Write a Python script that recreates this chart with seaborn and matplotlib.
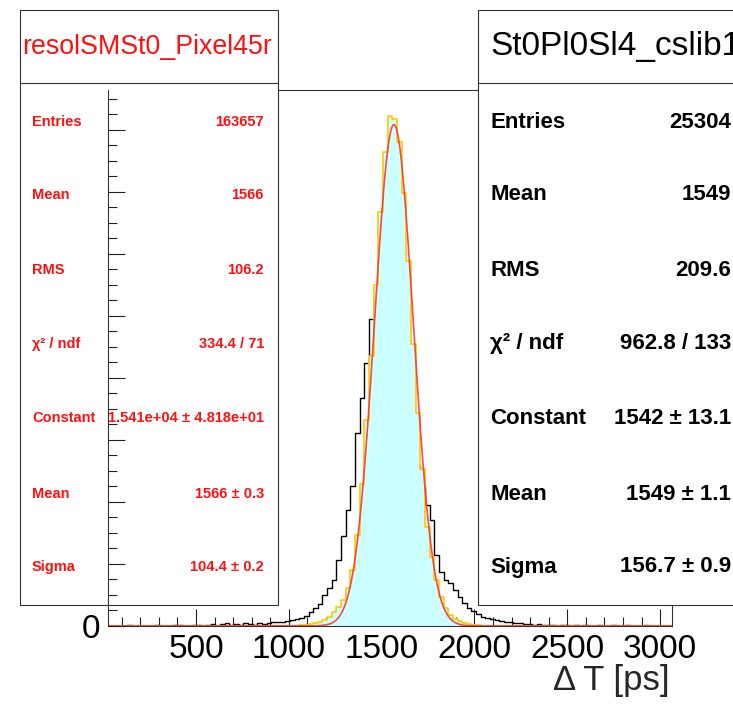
import numpy as np
import pandas as pd
import matplotlib
matplotlib.use("Agg")
import matplotlib.pyplot as plt
import seaborn as sns
from matplotlib.patches import Rectangle
from matplotlib.lines import Line2D
from matplotlib.ticker import MultipleLocator, FixedLocator, FuncFormatter

# ---------------- data ----------------
x_min, x_max, n_bins = 27.5, 3062.5, 121

cyan_counts = [0] * 40 + [
    16, 32, 48, 65, 97, 129, 194, 290, 452, 613,
    839, 1226, 1807, 2936, 4581, 6646, 8710, 11001, 13356, 15291,
    16453, 16356, 15614, 13969, 11775, 9097, 6871, 5065, 3194, 2226,
    1484, 936, 581, 355, 226, 161, 97, 65, 48, 32,
    16] + [0] * 40

black_counts = [
    0, 0, 0, 0, 48, 0, 0, 0, 0, 0,
    32, 0, 0, 0, 32, 48, 0, 0, 48, 32,
    0, 32, 65, 0, 65, 81, 32, 65, 32, 81,
    65, 32, 97, 65, 81, 113, 129, 145, 177, 194,
    226, 258, 323, 442, 571, 710, 1000, 1216, 1484, 2129,
    2903, 3742, 4516, 6226, 7355, 8484, 9904, 10646, 11130, 11291,
    11130, 10485, 9517, 8226, 6936, 5968, 5162, 4516, 3903, 3420,
    2290, 1742, 1484, 1387, 1161, 936, 742, 581, 484, 387,
    306, 258, 226, 194, 161, 129, 113, 97, 81, 65,
    65, 48, 65, 32, 48, 32, 0, 32, 48, 0,
    32, 0, 32, 0, 0, 32, 0, 0, 32, 0,
    0, 32, 0, 0, 0, 32, 0, 0, 0, 0,
    0]

fit_constant = 16160
fit_mean = 1566
fit_sigma = 104.4

x_tick_values = [500, 1000, 1500, 2000, 2500, 3000]
x_label = "\u0394 T [ps]"

left_title = "resolSMSt0_Pixel45r"
right_title = "St0Pl0Sl4_cslib1"
stat_labels = ["Entries", "Mean", "RMS", "\u03c7\u00b2 / ndf", "Constant", "Mean", "Sigma"]
left_values = ["163657", "1566", "106.2", "334.4 / 71",
               "1.541e+04 \u00b1 4.818e+01", "1566 \u00b1 0.3", "104.4 \u00b1 0.2"]
right_values = ["25304", "1549", "209.6", "962.8 / 133",
                "1542 \u00b1 13.1", "1549 \u00b1 1.1", "156.7 \u00b1 0.9"]

# ---------------- style ----------------
sns.set_style("ticks")
plt.rcParams['font.family'] = ['Liberation Sans', 'DejaVu Sans']

W, H = 733, 706
fig = plt.figure(figsize=(W / 100, H / 100), dpi=100)
ax_l, ax_r, ax_b, ax_t = 108.3, 671.7, 626, 90
ax = fig.add_axes([ax_l / W, 1 - ax_b / H, (ax_r - ax_l) / W, (ax_b - ax_t) / H])
ax.set_facecolor("white")

edges = np.linspace(x_min, x_max, n_bins + 1)
centers = 0.5 * (edges[:-1] + edges[1:])
bin_list = edges.tolist()
df = pd.DataFrame({"center": centers, "cyan": cyan_counts, "black": black_counts})

# black histogram (outline)
sns.histplot(data=df, x="center", weights="black", bins=bin_list, element="step",
             fill=False, color="black", linewidth=1.0, ax=ax, zorder=1.0)
# cyan filled histogram
sns.histplot(data=df, x="center", weights="cyan", bins=bin_list, element="step",
             fill=True, facecolor="#ccffff", edgecolor="none", linewidth=0,
             alpha=1, ax=ax, zorder=1.2)
# yellow outline
sns.histplot(data=df, x="center", weights="cyan", bins=bin_list, element="step",
             fill=False, color="#ffc800", linewidth=1.2, ax=ax, zorder=1.4)

# gaussian fit
x_fit = np.linspace(x_min, x_max, 1500)
y_fit = fit_constant * np.exp(-0.5 * ((x_fit - fit_mean) / fit_sigma) ** 2)
sns.lineplot(x=x_fit, y=y_fit, color="#ff2a2a", linewidth=1.2, alpha=0.85,
             estimator=None, sort=False, ax=ax, zorder=2.8)

ax.set_xlim(x_min, x_max)
ax.set_ylim(0, 1.05 * max(cyan_counts))
ax.set_ylabel("")

ax.xaxis.set_major_locator(FixedLocator(x_tick_values))
ax.xaxis.set_minor_locator(MultipleLocator(100))
ax.yaxis.set_major_locator(MultipleLocator(2000))
ax.yaxis.set_minor_locator(MultipleLocator(500))
ax.yaxis.set_major_formatter(FuncFormatter(lambda v, p: "0" if abs(v) < 1e-9 else ""))

ax.tick_params(axis="both", which="major", direction="in", length=12.5, width=0.8,
               color="#222222", labelsize=24, labelcolor="black")
ax.tick_params(axis="both", which="minor", direction="in", length=6.3, width=0.8,
               color="#222222")
ax.tick_params(axis="x", which="major", pad=6.0)
ax.tick_params(axis="y", which="major", pad=5.5)
ax.tick_params(top=False, right=False, which="both")

for s in ax.spines.values():
    s.set_color("#333333")
    s.set_linewidth(0.8)
    s.set_visible(True)
ax.spines["left"].set_zorder(4)
ax.yaxis.set_zorder(4)

ax.set_xlabel(x_label, fontsize=25, loc="right")
ax.xaxis.set_label_coords((670 - ax_l) / (ax_r - ax_l), (ax_b - 664) / (ax_b - ax_t))

# ---------------- stats boxes ----------------
def fx(px):
    return px / W

def fy(py):
    return 1 - py / H

box_top, box_bot, sep_y = 10, 605, 83
row_y = [122, 195, 270, 344, 418, 494, 567]

def stat_box(x0, x1, title, title_size, color, label_x, value_x, values, size, title_x):
    ax.add_patch(Rectangle((fx(x0), fy(box_bot)), fx(x1) - fx(x0), fy(box_top) - fy(box_bot),
                           transform=fig.transFigure, facecolor="white", edgecolor="#333333",
                           linewidth=0.8, zorder=3, clip_on=False))
    ax.add_line(Line2D([fx(x0), fx(x1)], [fy(sep_y), fy(sep_y)], transform=fig.transFigure,
                       color="#333333", linewidth=0.8, zorder=3.1, clip_on=False))
    ax.text(fx(title_x[0]), fy(47), title, transform=fig.transFigure, ha=title_x[1],
            va="center", fontsize=title_size, color=color, zorder=3.5)
    for lab, val, yy in zip(stat_labels, values, row_y):
        ax.text(fx(label_x), fy(yy), lab, transform=fig.transFigure, ha="left", va="center",
                fontsize=size, fontweight="bold", color=color, zorder=3.5)
        ax.text(fx(value_x), fy(yy), val, transform=fig.transFigure, ha="right", va="center",
                fontsize=size, fontweight="bold", color=color, zorder=3.5)

stat_box(20, 278, left_title, 19.3, "#ff1010", 32, 264, left_values, 10.5, (147, "center"))
stat_box(478, 745, right_title, 24, "black", 490, 731, right_values, 16, (490, "left"))

fig.savefig("out.png", dpi=100)
